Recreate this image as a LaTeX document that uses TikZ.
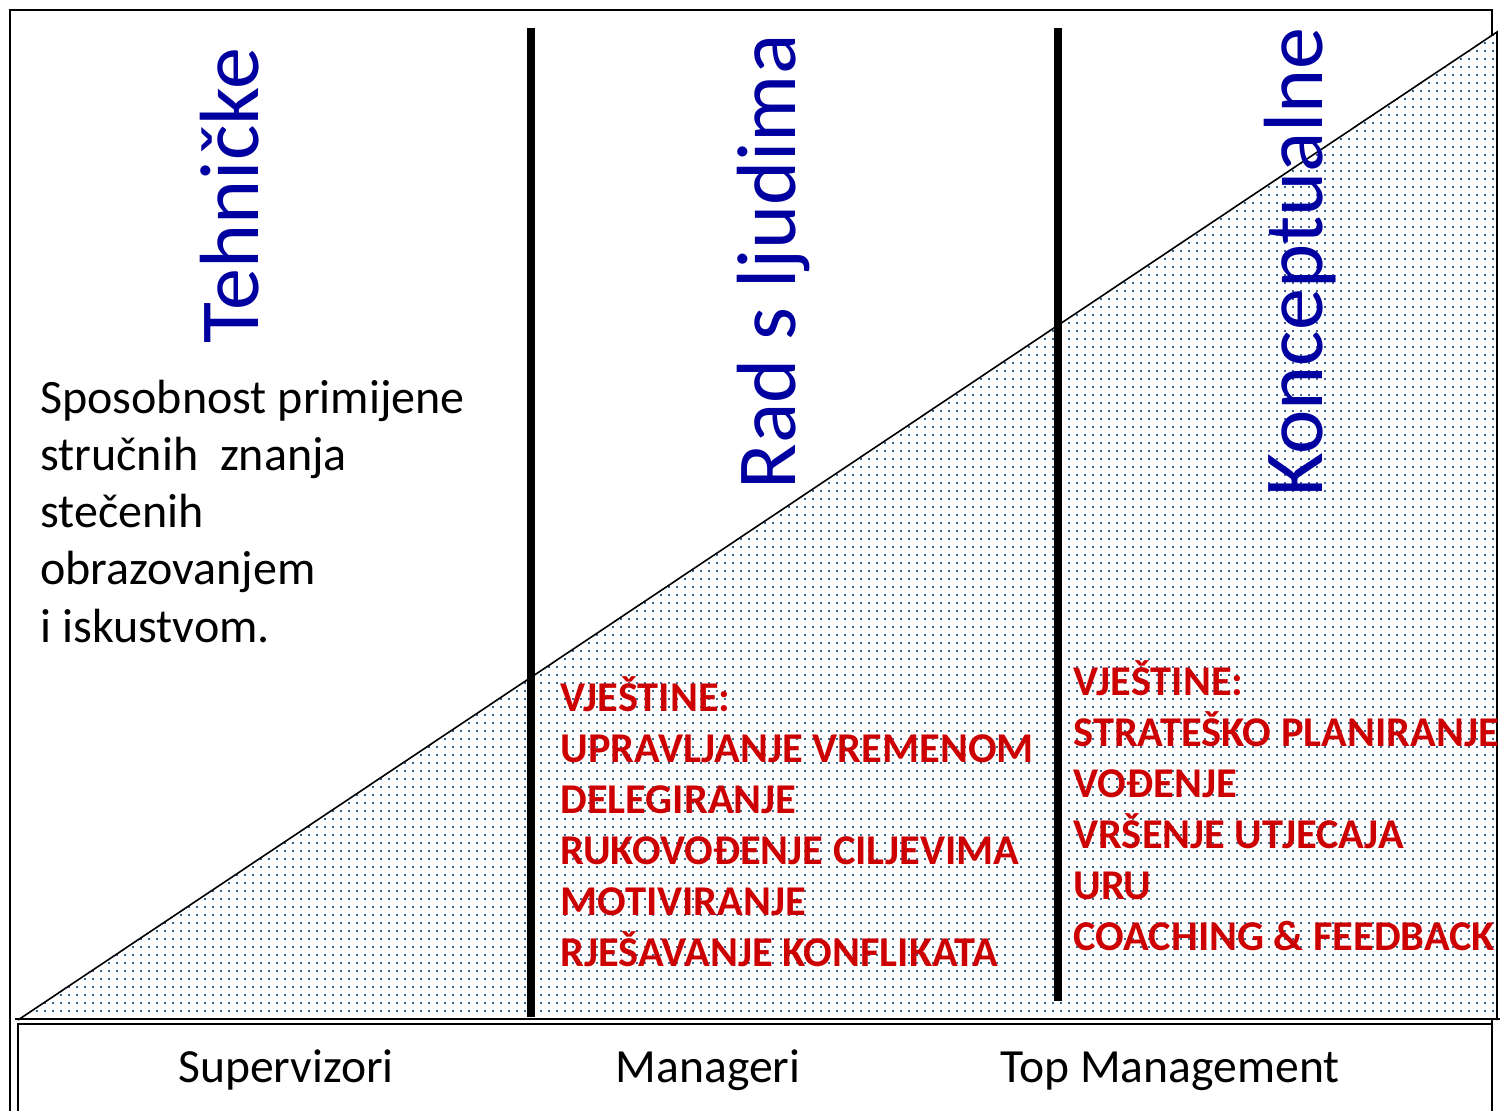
\documentclass[tikz,border=0pt]{standalone}
\usepackage{fontspec}
\setmainfont{Carlito}
\usepackage{tikz}

\definecolor{headblue}{RGB}{0,0,160}
\definecolor{skillred}{RGB}{204,0,0}
\definecolor{dotblue}{RGB}{55,100,150}

\begin{document}
\begin{tikzpicture}[x=0.5pt,y=0.5pt,yscale=-1,xscale=1,
  heading/.style={rotate=90, anchor=base west, inner sep=0pt, text=headblue, font=\fontsize{42}{42}\selectfont},
  skill/.style={anchor=base west, inner sep=0pt, text=skillred, font=\bfseries\fontsize{21.2}{21.2}\selectfont},
  note/.style={anchor=base west, inner sep=0pt, font=\fontsize{24}{24}\selectfont},
  level/.style={anchor=base, inner sep=0pt, font=\fontsize{23.8}{23.8}\selectfont},
  bar/.style={line width=4pt}]
\useasboundingbox (0,0) rectangle (1500,1110);

% frame
\coordinate (tl) at (10,10);
\coordinate (br) at (1492,1115);
\draw [line width=0.8pt] (tl) rectangle (br);

% dotted triangle
\coordinate (A) at (18,1020);
\coordinate (B) at (1497,32);
\coordinate (C) at (1497,1020);
\fill [white] (A) -- (B) -- (C) -- cycle;
\begin{scope}
  \clip (A) -- (B) -- (C) -- cycle;
  \foreach \r in {0,...,123} {
    \pgfmathtruncatemacro\cs{max(0,((1020-(34+8*\r))*1.497-8)/8)}
    \fill [dotblue] \foreach \c in {\cs,...,185} { (20+8*\c,34+8*\r) rectangle ++(1.9,1.9) };
  }
\end{scope}
\draw [line width=0.8pt] (A) -- (B) -- (C);
\draw [line width=1.2pt] (15,1019) -- (1500,1019);

% levels box
\coordinate (bl) at (18,1024);
\draw [line width=0.8pt] (bl) rectangle (br);

% column bars
\coordinate (b1t) at (531,28);
\coordinate (b1b) at (531,1017);
\coordinate (b2t) at (1058,28);
\coordinate (b2b) at (1058,1001);
\draw [bar] (b1t) -- (b1b);
\draw [bar] (b2t) -- (b2b);

% Text Node
\node [heading] (tech) at (258,344) {Tehničke};
% Text Node
\node [heading] (people) at (795,490) {Rad s ljudima};
% Text Node
\node [heading] (concept) at (1322,497) {Konceptualne};

\foreach \txt [count=\i from 0] in {Sposobnost primijene, stručnih\ \ znanja, stečenih, obrazovanjem, i iskustvom.}
  \node [note] (note\i) at (40,{413+57.25*\i}) {\txt};

\foreach \txt [count=\i from 0] in {VJEŠTINE:, UPRAVLJANJE VREMENOM, DELEGIRANJE, RUKOVOĐENJE CILJEVIMA, MOTIVIRANJE, RJEŠAVANJE KONFLIKATA}
  \node [skill] (mgr\i) at (560,{711+51*\i}) {\txt};

\foreach \txt [count=\i from 0] in {VJEŠTINE:, STRATEŠKO PLANIRANJE, VOĐENJE, VRŠENJE UTJECAJA, URU, COACHING \& FEEDBACK}
  \node [skill] (topm\i) at (1073,{695+51*\i}) {\txt};

% Text Node
\node [level] (sup) at (286,1082) {Supervizori};
% Text Node
\node [level] (man) at (708,1082) {Manageri};
% Text Node
\node [level] (topman) at (1170,1082) {Top Management};

\end{tikzpicture}
\end{document}
